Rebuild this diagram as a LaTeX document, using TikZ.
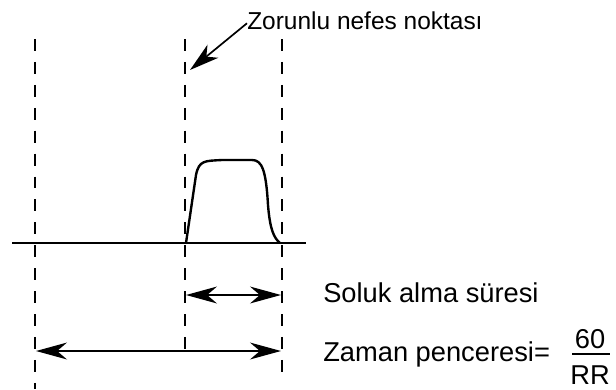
\documentclass[tikz,border=0pt]{standalone}
\usepackage{fontspec}
\setmainfont{Liberation Sans}
\usetikzlibrary{arrows.meta,positioning}

\begin{document}
\begin{tikzpicture}[x=0.025cm, y=-0.025cm,
  every node/.style={font=\fontsize{17.4}{19}\selectfont, inner sep=0pt},
  label text/.style={font=\fontsize{19.4}{21}\selectfont, anchor=base west},
  guide/.style={line width=1.8pt, dash pattern=on 8.5pt off 7.8pt},
  span/.style={line width=1.2pt, {Stealth[length=22pt,width=12pt,inset=7pt]}-{Stealth[length=22pt,width=12pt,inset=7pt]}}]

\useasboundingbox (0,0) rectangle (616,389);

% vertical guide lines
\coordinate (gL1) at (35,39);  \coordinate (gL2) at (35,389);
\coordinate (gM1) at (185,39); \coordinate (gM2) at (185,356);
\coordinate (gR1) at (282,39); \coordinate (gR2) at (282,380);
\draw[guide] (gL1) -- (gL2);
\draw[guide] (gM1) -- (gM2);
\draw[guide] (gR1) -- (gR2);

% baseline and breath pulse
\coordinate (b1) at (12,243); \coordinate (b2) at (306,243);
\draw[line width=1.5pt] (b1) -- (b2);
\draw[line width=1.7pt] (186,243) -- (196,175)
  .. controls (199,160) and (205,161) .. (222,160) -- (252,160)
  .. controls (262,160) and (266,170) .. (268,205)
  .. controls (270,230) and (274,238) .. (280,243);

% callout
\node[anchor=base west] (nefes) at (247,29) {Zorunlu nefes noktası};
\coordinate (tip) at (190,70);
\draw[line width=1.2pt, -{Stealth[length=21pt,width=12pt,inset=6pt]}] (nefes.west) ++(0,3) -- (tip);

% durations
\coordinate (s1) at (186,295); \coordinate (s2) at (281,295);
\draw[span] (s1) -- (s2);
\node[label text] (soluk) at (323,302) {Soluk alma süresi};

\coordinate (w1) at (36,351); \coordinate (w2) at (281,351);
\draw[span] (w1) -- (w2);
\node[label text] (zaman) at (323,361) {Zaman penceresi=};
\node[label text, anchor=base] (pay) at (590,348) {60};
\node[label text, anchor=base] (payda) at (590,384) {RR};
\draw[line width=1.8pt] (572,354) -- (610,354);

\end{tikzpicture}
\end{document}
